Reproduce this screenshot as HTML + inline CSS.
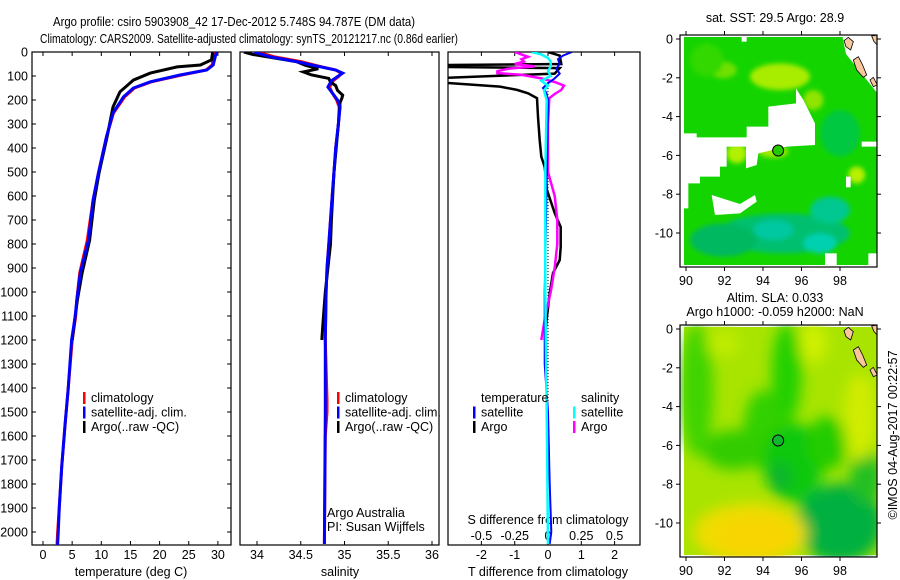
<!DOCTYPE html>
<html><head><meta charset="utf-8">
<style>
html,body{margin:0;padding:0;background:#fff;}
svg{display:block;font-family:"Liberation Sans",sans-serif;}
text{font-size:12.5px;fill:#000;}
</style></head>
<body>
<svg id="c" width="900" height="580" viewBox="0 0 900 580">
<defs>
<filter id="blur3" x="-10%" y="-10%" width="120%" height="120%"><feGaussianBlur stdDeviation="7"/></filter>
<filter id="blur1"><feGaussianBlur stdDeviation="2.5"/></filter>
<clipPath id="clipT"><rect x="32" y="52" width="199" height="493"/></clipPath>
<clipPath id="clipS"><rect x="240" y="52" width="199" height="493"/></clipPath>
<clipPath id="clipD"><rect x="448" y="52" width="192" height="493"/></clipPath>
<clipPath id="clipM1"><rect x="680" y="35" width="197" height="232"/></clipPath>
<clipPath id="clipM2"><rect x="680" y="325" width="197" height="232"/></clipPath>
</defs>
<text x="53" y="26" textLength="362" lengthAdjust="spacingAndGlyphs">Argo profile: csiro 5903908_42 17-Dec-2012 5.748S 94.787E (DM data)</text>
<text x="40" y="43" textLength="418" lengthAdjust="spacingAndGlyphs">Climatology: CARS2009. Satellite-adjusted climatology: synTS_20121217.nc (0.86d earlier)</text>
<g id="g"></g>
</svg>
<script>
// ---------- data ----------
const depthTicks = [0,100,200,300,400,500,600,700,800,900,1000,1100,1200,1300,1400,1500,1600,1700,1800,1900,2000];
const tempTicks = [0,5,10,15,20,25,30];
const salTicks = [34,34.5,35,35.5,36];
const salTickLabels = ["34","34.5","35","35.5","36"];
const tdTicks = [-2,-1,0,1,2];
const sdTicks = [-0.5,-0.25,0,0.25,0.5];
const sdTickLabels = ["-0.5","-0.25","0","0.25","0.5"];

const tSatDepth = [0,4,54,75,96,124,150,187,254,353,505,617,784,921,1033,1104,1200,1408,1546,1729,1896,2004,2054];
const tSatVal   = [29.8,29.7,29.2,28.1,23.5,18.4,15.5,13.8,12.0,10.9,9.5,8.6,7.8,6.4,5.8,5.5,4.9,4.3,3.8,3.2,2.8,2.6,2.5];
const tClimDepth = [0,4,54,75,96,124,150,187,254,353,505,617,700,784,921,1033,1104,1200,1408,1546,1729,1896,2004,2054];
const tClimVal   = [29.5,29.4,29.0,28.0,23.8,18.6,15.7,14.0,12.1,10.9,9.5,8.6,8.1,7.6,6.3,5.8,5.6,5.0,4.3,3.8,3.2,2.8,2.5,2.4];
const tArgoDepth = [0,33,54,62,88,117,166,229,353,505,617,784,921,1033,1104,1200];
const tArgoVal   = [29.1,28.9,27.0,23.0,18.4,15.5,13.2,12.0,11.0,9.6,8.8,8.0,6.7,5.9,5.5,5.0];

const sSatDepth = [0,20,40,60,75,88,100,120,146,170,200,229,300,400,500,600,700,800,900,1000,1200,1500,2050];
const sSatVal   = [33.97,34.15,34.45,34.7,34.9,34.98,34.93,34.85,34.81,34.86,34.92,34.95,34.93,34.9,34.88,34.86,34.84,34.82,34.8,34.79,34.78,34.78,34.77];
const sClimDepth = [0,20,40,60,75,88,100,120,146,170,200,229,300,400,500,600,700,800,900,1000,1200,1450,1500,1600,2050];
const sClimVal   = [34.0,34.2,34.5,34.72,34.9,34.96,34.94,34.87,34.83,34.86,34.91,34.94,34.93,34.9,34.88,34.86,34.84,34.82,34.8,34.79,34.78,34.8,34.8,34.78,34.77];
const sArgoDepth = [0,10,25,40,55,70,83,95,110,125,140,160,180,192,210,300,500,700,800,900,1000,1100,1200];
const sArgoVal   = [33.85,33.95,34.2,34.45,34.55,34.7,34.53,34.62,34.82,34.84,34.9,34.92,34.98,34.97,34.95,34.93,34.88,34.85,34.84,34.81,34.78,34.76,34.74];

const dTArgoDepth = [0,15,50,55,62,67,75,90,110,124,144,158,172,192,270,367,436,479,575,671,729,813,867,921,1004,1129,1200];
const dTArgoVal   = [0.0,0.35,0.4,-3.5,-3.5,0.35,0.3,0.2,-3.5,-3.5,-1.44,-0.93,-0.6,-0.33,-0.3,-0.25,-0.2,-0.1,-0.03,0.2,0.38,0.38,0.35,0.15,0.05,-0.05,-0.1];
const dSArgoDepth = [0,10,20,30,40,50,60,70,80,88,95,110,125,140,158,175,192,300,500,600,700,800,900,1000,1100,1200];
const dSArgoVal   = [-0.25,-0.2,-0.15,-0.2,-0.18,-0.25,-0.1,-0.3,-0.38,-0.38,-0.2,-0.05,0.05,0.12,0.1,0.05,0.01,0.0,0.0,0.05,0.07,0.07,0.05,0.02,-0.02,-0.05];
const dTSatDepth = [0,15,30,50,70,90,110,130,150,170,200,400,1000,1300,1500,1800,2000,2050];
const dTSatVal   = [0.72,0.45,0.3,0.35,0.25,0.35,0.2,0.0,-0.15,-0.05,0.0,-0.02,-0.1,-0.1,0.0,0.05,0.1,0.05];
const dSSatDepth = [0,10,25,40,60,80,100,120,140,160,200,500,1000,1500,2050];
const dSSatVal   = [-0.12,-0.05,0.0,0.02,0.02,0.0,0.02,-0.05,0.0,-0.03,-0.01,-0.02,-0.02,-0.01,0.0];

const latTicks = [0,-2,-4,-6,-8,-10];
const lonTicks = [90,92,94,96,98];
const argoLon = 94.787, argoLat = -5.748;

// ---------- helpers ----------
const NS='http://www.w3.org/2000/svg';
const G=document.getElementById('g');
function mk(tag,attrs,parent){const e=document.createElementNS(NS,tag);for(const k in attrs)e.setAttribute(k,attrs[k]);(parent||G).appendChild(e);return e;}
const yD = d => 52 + d*0.24;
const xT = t => 43 + t*5.83;
const xS = s => 257 + (s-34)*87.5;
const xDT = v => 548 + v*33.3;
const xDS = v => 548 + v*133.2;
function pathOf(dep,val,fx){let s='';for(let i=0;i<dep.length;i++){s+=(i?'L':'M')+fx(val[i]).toFixed(1)+','+yD(dep[i]).toFixed(1);}return s;}

function frame(x0,x1,name){
  const r=mk('rect',{x:x0,y:52,width:x1-x0,height:493,fill:'none',stroke:'#000','stroke-width':1.2});
  
  
}
frame(32,231,'temperature-plot-area');
frame(240,439,'salinity-plot-area');
frame(448,640,'difference-plot-area');

const yAx=mk('g',{});


depthTicks.forEach(d=>{
  const y=yD(d);
  const t=mk('text',{x:28,y:y+4.5,'text-anchor':'end'},yAx);t.textContent=d;
  
  
  mk('line',{x1:32,x2:36,y1:y,y2:y,stroke:'#000'},yAx);
  mk('line',{x1:227,x2:231,y1:y,y2:y,stroke:'#000'},yAx);
});

function xAxis(ticks,labels,fx,ybase,name,top,bot){
  const g=mk('g',{});
  
  
  ticks.forEach((v,i)=>{
    const x=fx(v);
    if(top){mk('line',{x1:x,x2:x,y1:52,y2:56,stroke:'#000'},g);}
    if(bot){mk('line',{x1:x,x2:x,y1:541,y2:545,stroke:'#000'},g);}
    const t=mk('text',{x:x,y:ybase,'text-anchor':'middle'},g);t.textContent=labels[i];
    
    
  });
}
xAxis(tempTicks,tempTicks.map(String),xT,559,'temperature-axis',true,true);
xAxis(salTicks,salTickLabels,xS,559,'salinity-axis',true,true);
xAxis(tdTicks,tdTicks.map(String),xDT,559,'t-difference-axis',true,true);
xAxis(sdTicks,sdTickLabels,xDS,540,'s-difference-axis',false,false);

function label(x,y,txt,name,anchor){const t=mk('text',{x:x,y:y,'text-anchor':anchor||'middle'});t.textContent=txt;
  
  return t;}
label(131,576,'temperature (deg C)','temperature-axis-title');
label(340,576,'salinity','salinity-axis-title');
label(548,576,'T difference from climatology','t-difference-axis-title');
label(548,524,'S difference from climatology','s-difference-axis-title');
label(327,517,'Argo Australia','institution-label','start');
label(327,531,'PI: Susan Wijffels','pi-label','start');

const z=mk('line',{x1:548,x2:548,y1:yD(100),y2:545,stroke:'#000','stroke-dasharray':'1,2'});



function series(dep,val,fx,color,w,clip,name){
  const p=mk('path',{d:pathOf(dep,val,fx),fill:'none',stroke:color,'stroke-width':w,'clip-path':'url(#'+clip+')','stroke-linejoin':'miter'});
  
  
}
series(tClimDepth,tClimVal,xT,'#ff0000',3,'clipT','temperature-climatology-line');
series(tArgoDepth,tArgoVal,xT,'#000',3,'clipT','temperature-argo-line');
series(tSatDepth,tSatVal,xT,'#0000ff',3,'clipT','temperature-satellite-line');
series(sClimDepth,sClimVal,xS,'#ff0000',3,'clipS','salinity-climatology-line');
series(sArgoDepth,sArgoVal,xS,'#000',3,'clipS','salinity-argo-line');
series(sSatDepth,sSatVal,xS,'#0000ff',3,'clipS','salinity-satellite-line');
series(dTArgoDepth,dTArgoVal,xDT,'#000',2.5,'clipD','t-diff-argo-line');
series(dSArgoDepth,dSArgoVal,xDS,'#ff00ff',2.5,'clipD','s-diff-argo-line');
series(dTSatDepth,dTSatVal,xDT,'#0000ff',2,'clipD','t-diff-satellite-line');
series(dSSatDepth,dSSatVal,xDS,'#00ffff',2.5,'clipD','s-diff-satellite-line');

function legEntry(x,y,color,txt,name){
  const g=mk('g',{});
  
  
  mk('rect',{x:x,y:y-10,width:2.5,height:12,fill:color},g);
  const t=mk('text',{x:x+8,y:y},g);t.textContent=txt;
}
[[83,'#ff0000','climatology'],[83,'#0000ff','satellite-adj. clim.'],[83,'#000','Argo(..raw -QC)']].forEach((e,i)=>legEntry(e[0],402+i*14.5,e[1],e[2],'temperature-legend-entry'));
[[337,'#ff0000','climatology'],[337,'#0000ff','satellite-adj. clim.'],[337,'#000','Argo(..raw -QC)']].forEach((e,i)=>legEntry(e[0],402+i*14.5,e[1],e[2],'salinity-legend-entry'));
label(481,402,'temperature','diff-legend-temperature-header','start');
label(581,402,'salinity','diff-legend-salinity-header','start');
legEntry(473,416.5,'#0000ff','satellite','diff-legend-t-satellite');
legEntry(473,431,'#000','Argo','diff-legend-t-argo');
legEntry(573,416.5,'#00ffff','satellite','diff-legend-s-satellite');
legEntry(573,431,'#ff00ff','Argo','diff-legend-s-argo');

// ---------- maps ----------
const mx = lon => 686 + (lon-90)*19.25;
function mapFrame(y0,lat0,clip,name,draw){
  const g=mk('g',{});
  
  
  const my = lat => lat0 - lat*19.4;
  const inner=mk('g',{'clip-path':'url(#'+clip+')'},g);
  draw(inner,(zx,zy)=>[640+zx/3,y0+zy/3]);
  const land=[[[612,122],[625,112],[640,125],[632,150],[618,140]],[[640,180],[655,170],[668,195],[680,225],[670,232],[650,210]],[[690,240],[700,232],[712,255],[700,260]],[[695,108],[712,105],[712,135],[702,125]]];
  land.forEach(p=>{mk('polygon',{points:p.map(q=>(640+q[0]/3)+','+(y0+q[1]/3-35)).join(' '),fill:'#f8c89c',stroke:'#000','stroke-width':0.8},inner);});
  mk('rect',{x:680,y:y0,width:197,height:232,fill:'none',stroke:'#000','stroke-width':1.2},g);
  latTicks.forEach(l=>{const y=my(l);mk('line',{x1:676,x2:680,y1:y,y2:y,stroke:'#000'},g);mk('line',{x1:877,x2:881,y1:y,y2:y,stroke:'#000'},g);
    const t=mk('text',{x:673,y:y+4.5,'text-anchor':'end'},g);t.textContent=l;});
  lonTicks.forEach(l=>{const x=mx(l);mk('line',{x1:x,x2:x,y1:y0-4,y2:y0,stroke:'#000'},g);mk('line',{x1:x,x2:x,y1:y0+232,y2:y0+236,stroke:'#000'},g);
    const t=mk('text',{x:x,y:y0+250,'text-anchor':'middle'},g);t.textContent=l;});
  const c=mk('circle',{cx:mx(argoLon),cy:my(argoLat),r:5.5,fill:(y0===35?'#22cc00':'#10b830'),stroke:'#000','stroke-width':1},g);
  
  
}
function poly(parent,P,pts,fill,extra){const a={points:pts.map(q=>P(q[0],q[1]).join(',')).join(' '),fill:fill};Object.assign(a,extra||{});return mk('polygon',a,parent);}
function ell(parent,P,zx,zy,rx,ry,fill,f){const p=P(zx,zy);return mk('ellipse',{cx:p[0],cy:p[1],rx:rx/3,ry:ry/3,fill:fill,filter:f||''},parent);}

mapFrame(35,39,'clipM1','sst-map',(g,P0)=>{
  const P=(zx,zy)=>P0(zx,zy-105);
  mk('rect',{x:684,y:37,width:193,height:228,fill:'#14d400'},g);
  const b=mk('g',{filter:'url(#blur1)'},g);
  ell(b,P,420,230,90,40,'#a8ec00');ell(b,P,250,210,40,25,'#70e000');ell(b,P,520,300,30,30,'#90e400');
  ell(b,P,290,460,30,30,'#b0f000');ell(b,P,650,525,25,25,'#b8f000');ell(b,P,400,455,45,18,'#a0ea00');
  ell(b,P,430,700,200,60,'#00c070');ell(b,P,570,630,60,40,'#00c890');ell(b,P,540,730,50,30,'#00d0b0');ell(b,P,400,690,60,30,'#00c8a0');ell(b,P,250,720,100,50,'#00b860');
  ell(b,P,200,180,50,50,'#30d800');ell(b,P,600,400,60,70,'#00c840');
  const W='#ffffff';
  poly(g,P,[[320,380],[385,380],[385,320],[468,310],[468,265],[490,300],[525,370],[525,435],[440,440],[355,460],[350,495],[318,505],[318,440],[260,440],[260,500],[240,500],[240,530],[180,530],[180,550],[145,550],[145,625],[120,625],[120,400],[170,400],[170,412],[320,412]],W);
  poly(g,P,[[215,585],[300,612],[345,585],[350,605],[300,640],[225,645]],W);
  mk('polygon',{points:'842,34 878,34 878,94 870,84 846,54',fill:'#ffffff'},g);
  poly(g,P,[[665,425],[720,425],[720,440],[665,440]],W);
  poly(g,P,[[618,530],[632,530],[632,562],[618,562]],W);
  poly(g,P,[[555,760],[590,760],[590,800],[555,800]],W);
  poly(g,P,[[685,760],[720,760],[720,800],[685,800]],W);
  poly(g,P,[[120,795],[720,795],[720,810],[120,810]],W);
  poly(g,P,[[305,95],[320,95],[320,125],[305,125]],W);
});
mapFrame(325,329,'clipM2','sla-map',(g,P0)=>{
  const P=(zx,zy)=>P0(zx,zy-105);
  mk('rect',{x:684,y:327,width:193,height:228,fill:'#a8e400'},g);
  const b=mk('g',{filter:'url(#blur3)'},g);
  ell(b,P,170,300,50,200,'#40d400');ell(b,P,440,250,45,150,'#20d000');ell(b,P,370,420,60,120,'#30d000');
  ell(b,P,280,480,90,60,'#30cc00');ell(b,P,460,520,90,120,'#10c810');ell(b,P,560,460,60,80,'#20cc00');
  ell(b,P,600,700,130,120,'#00b040');ell(b,P,680,560,50,80,'#20c020');ell(b,P,420,560,30,40,'#10b030');
  ell(b,P,330,730,170,90,'#f0dc00');ell(b,P,350,740,110,60,'#f8d400');ell(b,P,660,380,50,130,'#d0ec00');ell(b,P,520,160,40,60,'#d0f000');ell(b,P,250,160,50,40,'#c0ec00');
});
label(775,22,'sat. SST: 29.5 Argo: 28.9','sst-map-title');
label(775,302,'Altim. SLA: 0.033','sla-map-title');
label(775,316,'Argo h1000: -0.059 h2000: NaN','sla-map-subtitle');
const cp=label(0,0,'©IMOS 04-Aug-2017 00:22:57','timestamp-label');
cp.setAttribute('transform','translate(897,435) rotate(-90)');
</script>
</body></html>
